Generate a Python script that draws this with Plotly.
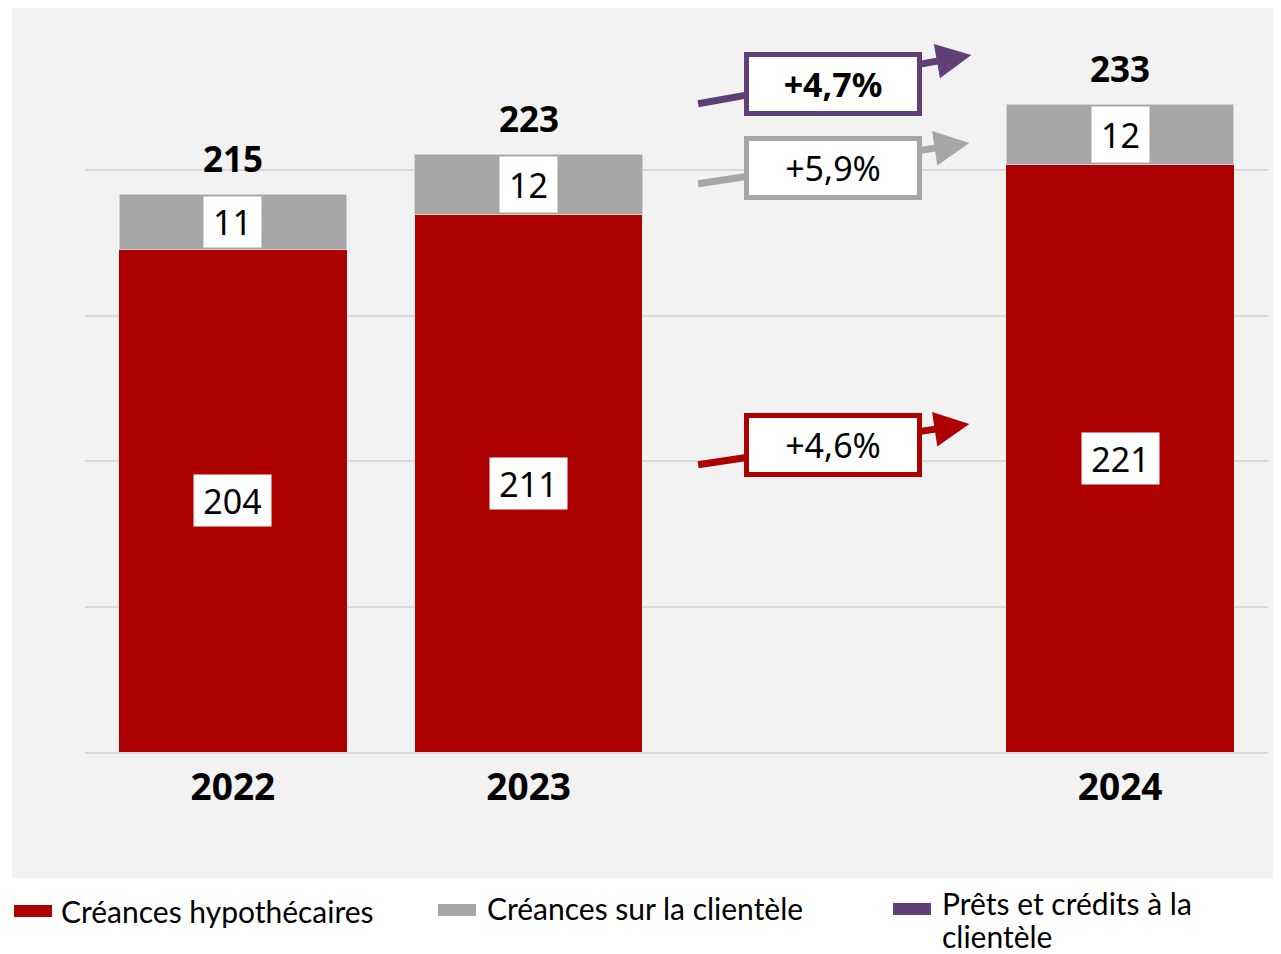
import plotly.graph_objects as go

# ---------------- data ----------------
year_labels = ["2022", "2023", "2024"]
x_pos = [0, 1, 3]                       # slot 2 is left empty for the growth arrows
hypo = [204, 211, 221]                  # Créances hypothécaires
clientele = [11, 12, 12]                # Créances sur la clientèle
totals = [215, 223, 233]                # Prêts et crédits à la clientèle
growth_labels = ["<b>+4,7%</b>", "+5,9%", "+4,6%"]
series_names = ["Créances hypothécaires", "Créances sur la clientèle",
                "Prêts et crédits à la clientèle"]

# ---------------- style ----------------
RED = "#AD0000"
GRAY = "#A6A6A6"
PURPLE = "#5F3F75"
BG = "#F2F2F2"
GRID = "#D9D9D9"
NUM_FONT = "Noto Sans, Open Sans, sans-serif"
LEG_FONT = "Lato, Roboto, sans-serif"

OFF = 8                                  # page body margin
PAGE_W, PAGE_H = 1281, 954
W, H = PAGE_W - OFF, PAGE_H - OFF
PLOT_L, PLOT_R, PLOT_T, PLOT_B = 85, 1268, 30, 752   # page pixels
ML, MR = PLOT_L - OFF, PAGE_W - PLOT_R
MT, MB = PLOT_T - OFF, PAGE_H - PLOT_B
PW, PH = PLOT_R - PLOT_L, PLOT_B - PLOT_T
Y_MIN = 103.5
PX_PER_UNIT = 5.0
Y_MAX = Y_MIN + PH / PX_PER_UNIT
GRID_STEP = 29.1


def px_x(px):
    return (px - PLOT_L) / PW


def px_y(py):
    return (PLOT_B - py) / PH


fig = go.Figure()
fig.add_trace(go.Bar(x=x_pos, y=hypo, name=series_names[0], marker_color=RED,
                     marker_line_width=0, showlegend=False, hoverinfo="skip"))
fig.add_trace(go.Bar(x=x_pos, y=clientele, name=series_names[1], marker_color=GRAY,
                     marker_line=dict(color="#D0D0D0", width=1), showlegend=False,
                     hoverinfo="skip"))

ann = []
# value labels inside bars
for xp, h, c, t in zip(x_pos, hypo, clientele, totals):
    ann.append(dict(x=xp, y=(Y_MIN + h) / 2, text=str(h), showarrow=False,
                    font=dict(family=NUM_FONT, size=34, color="black"),
                    bgcolor="white", width=77, height=51, borderpad=0))
    ann.append(dict(x=xp, y=h + c / 2, text=str(c), showarrow=False,
                    font=dict(family=NUM_FONT, size=34, color="black"),
                    bgcolor="white", width=57, height=c * PX_PER_UNIT - 5, borderpad=0))
    ann.append(dict(x=xp, y=t, yshift=36, text=str(t), showarrow=False,
                    font=dict(family=NUM_FONT, size=35, color="black", weight="bold")))

# growth arrows + boxes (tail, tip in data coords)
arrow_specs = [
    (PURPLE, (1.568, 233.1), (2.497, 242.9), 237.2),
    (GRAY, (1.568, 217.1), (2.490, 225.3), 220.3),
    (RED, (1.568, 160.9), (2.490, 169.1), 165.0),
]
for (col, tail, tip, yc), lab in zip(arrow_specs, growth_labels):
    ann.append(dict(x=tip[0], y=tip[1], ax=tail[0], ay=tail[1], axref="x", ayref="y",
                    text="", showarrow=True, arrowhead=2, arrowsize=1.0,
                    arrowwidth=7, arrowcolor=col, standoff=0, startstandoff=0))
for (col, tail, tip, yc), lab in zip(arrow_specs, growth_labels):
    ann.append(dict(x=2.03, y=yc, text=lab, showarrow=False,
                    font=dict(family=NUM_FONT, size=34, color="black"),
                    bgcolor="white", bordercolor=col, borderwidth=5, borderpad=0,
                    width=168, height=54))

# background + manual legend
shapes = [dict(type="rect", xref="paper", yref="paper", layer="below",
               x0=px_x(12), x1=px_x(PAGE_W), y0=px_y(878), y1=px_y(OFF),
               fillcolor=BG, line_width=0)]
legend_items = [
    (RED, 14, 905, 60, [(911, series_names[0])]),
    (GRAY, 438, 904, 486, [(908, series_names[1])]),
    (PURPLE, 893, 903, 941, [(903, "Prêts et crédits à la"), (936, "clientèle")]),
]
for col, rx, ry, tx, lines in legend_items:
    shapes.append(dict(type="rect", xref="paper", yref="paper",
                       x0=px_x(rx), x1=px_x(rx + 38), y0=px_y(ry + 12), y1=px_y(ry),
                       fillcolor=col, line_width=0))
    for ty, txt in lines:
        ann.append(dict(xref="paper", yref="paper", x=px_x(tx), y=px_y(ty),
                        xanchor="left", yanchor="middle", align="left",
                        text=txt, showarrow=False, borderpad=0,
                        font=dict(family=LEG_FONT, size=30, color="black")))

fig.update_layout(
    width=W, height=H,
    margin=dict(l=ML, r=MR, t=MT, b=MB),
    paper_bgcolor="white", plot_bgcolor="rgba(0,0,0,0)",
    barmode="stack", bargap=0.23,
    showlegend=False,
    annotations=ann, shapes=shapes,
    xaxis=dict(range=[-0.5, 3.5], tickvals=x_pos, ticktext=year_labels,
               tickfont=dict(family=NUM_FONT, size=37, color="black", weight="bold"),
               ticks="outside", ticklen=2, tickcolor="rgba(0,0,0,0)",
               showgrid=False, showline=True, linecolor=GRID, linewidth=2,
               zeroline=False, fixedrange=True),
    yaxis=dict(range=[Y_MIN, Y_MAX], showticklabels=False,
               tickvals=[Y_MIN + GRID_STEP * i for i in range(1, 5)],
               showgrid=True, gridcolor=GRID, gridwidth=2, zeroline=False,
               fixedrange=True),
)

fig.write_html("out.html")
